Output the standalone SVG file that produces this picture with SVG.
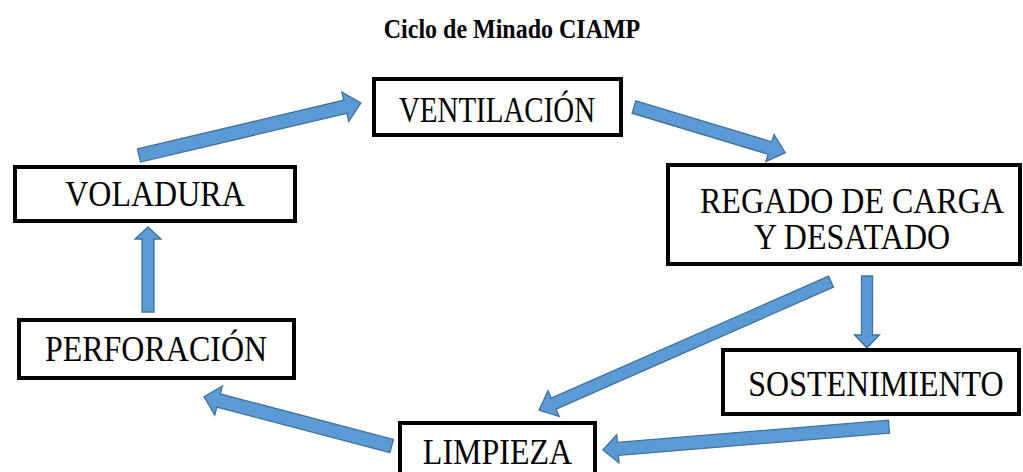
<svg xmlns="http://www.w3.org/2000/svg" width="1023" height="472" viewBox="0 0 1023 472">
<style>
.box{fill:#ffffff;stroke:#000000;stroke-width:4}
.lbl{font-family:"Liberation Serif","Times New Roman",serif;font-size:32px;fill:#000000;text-anchor:middle}
.title{font-family:"Liberation Serif","Times New Roman",serif;font-size:24px;font-weight:bold;fill:#000000;text-anchor:middle}
.arr{fill:#5B9BD5;stroke:#41719C;stroke-width:1.3;stroke-linejoin:miter}
</style>
<rect x="0" y="0" width="1023" height="472" fill="#ffffff"/>
<text class="title" transform="translate(512,38) scale(1,1.12)">Ciclo de Minado CIAMP</text>
<g id="connectors">
<polygon class="arr" transform="translate(139,155.5) rotate(-13.3)" points="0,-6.7 212,-6.7 212,-15 228,0 212,15 212,6.7 0,6.7"/>
<polygon class="arr" transform="translate(634,107) rotate(16.8)" points="0,-6.5 142,-6.5 142,-14 158,0 142,14 142,6.5 0,6.5"/>
<polygon class="arr" transform="translate(148,312) rotate(-90)" points="0,-6 73,-6 73,-13 85,0 73,13 73,6 0,6"/>
<polygon class="arr" transform="translate(867,276) rotate(90)" points="0,-5.5 59,-5.5 59,-12.5 72,0 59,12.5 59,5.5 0,5.5"/>
<polygon class="arr" transform="translate(831,281.7) rotate(156.26)" points="0,-6 303,-6 303,-14 319,0 303,14 303,6 0,6"/>
<polygon class="arr" transform="translate(889,426.7) rotate(175.34)" points="0,-6.5 272,-6.5 272,-14 287,0 272,14 272,6.5 0,6.5"/>
<polygon class="arr" transform="translate(391.7,446) rotate(194.72)" points="0,-6.8 179,-6.8 179,-15 194,0 179,15 179,6.8 0,6.8"/>
</g>
<g id="ventilacion">
<rect class="box" x="374" y="79" width="247" height="56"/>
<text class="lbl" transform="translate(497,122) scale(0.905,1.12)">VENTILACIÓN</text>
</g>
<g id="regado">
<rect class="box" x="668" y="165" width="352" height="99"/>
<text class="lbl" transform="translate(852,213) scale(1,1.12)">REGADO DE CARGA</text>
<text class="lbl" transform="translate(852,249) scale(1,1.12)">Y DESATADO</text>
</g>
<g id="voladura">
<rect class="box" x="15" y="167" width="280" height="54"/>
<text class="lbl" transform="translate(155,206) scale(1,1.12)">VOLADURA</text>
</g>
<g id="perforacion">
<rect class="box" x="19" y="320" width="275" height="58"/>
<text class="lbl" transform="translate(156,361) scale(1,1.12)">PERFORACIÓN</text>
</g>
<g id="sostenimiento">
<rect class="box" x="723" y="350" width="296" height="64"/>
<text class="lbl" transform="translate(876,396) scale(1,1.12)">SOSTENIMIENTO</text>
</g>
<g id="limpieza">
<rect class="box" x="400" y="423" width="195" height="60"/>
<text class="lbl" transform="translate(497.5,464) scale(1,1.12)">LIMPIEZA</text>
</g>
</svg>
